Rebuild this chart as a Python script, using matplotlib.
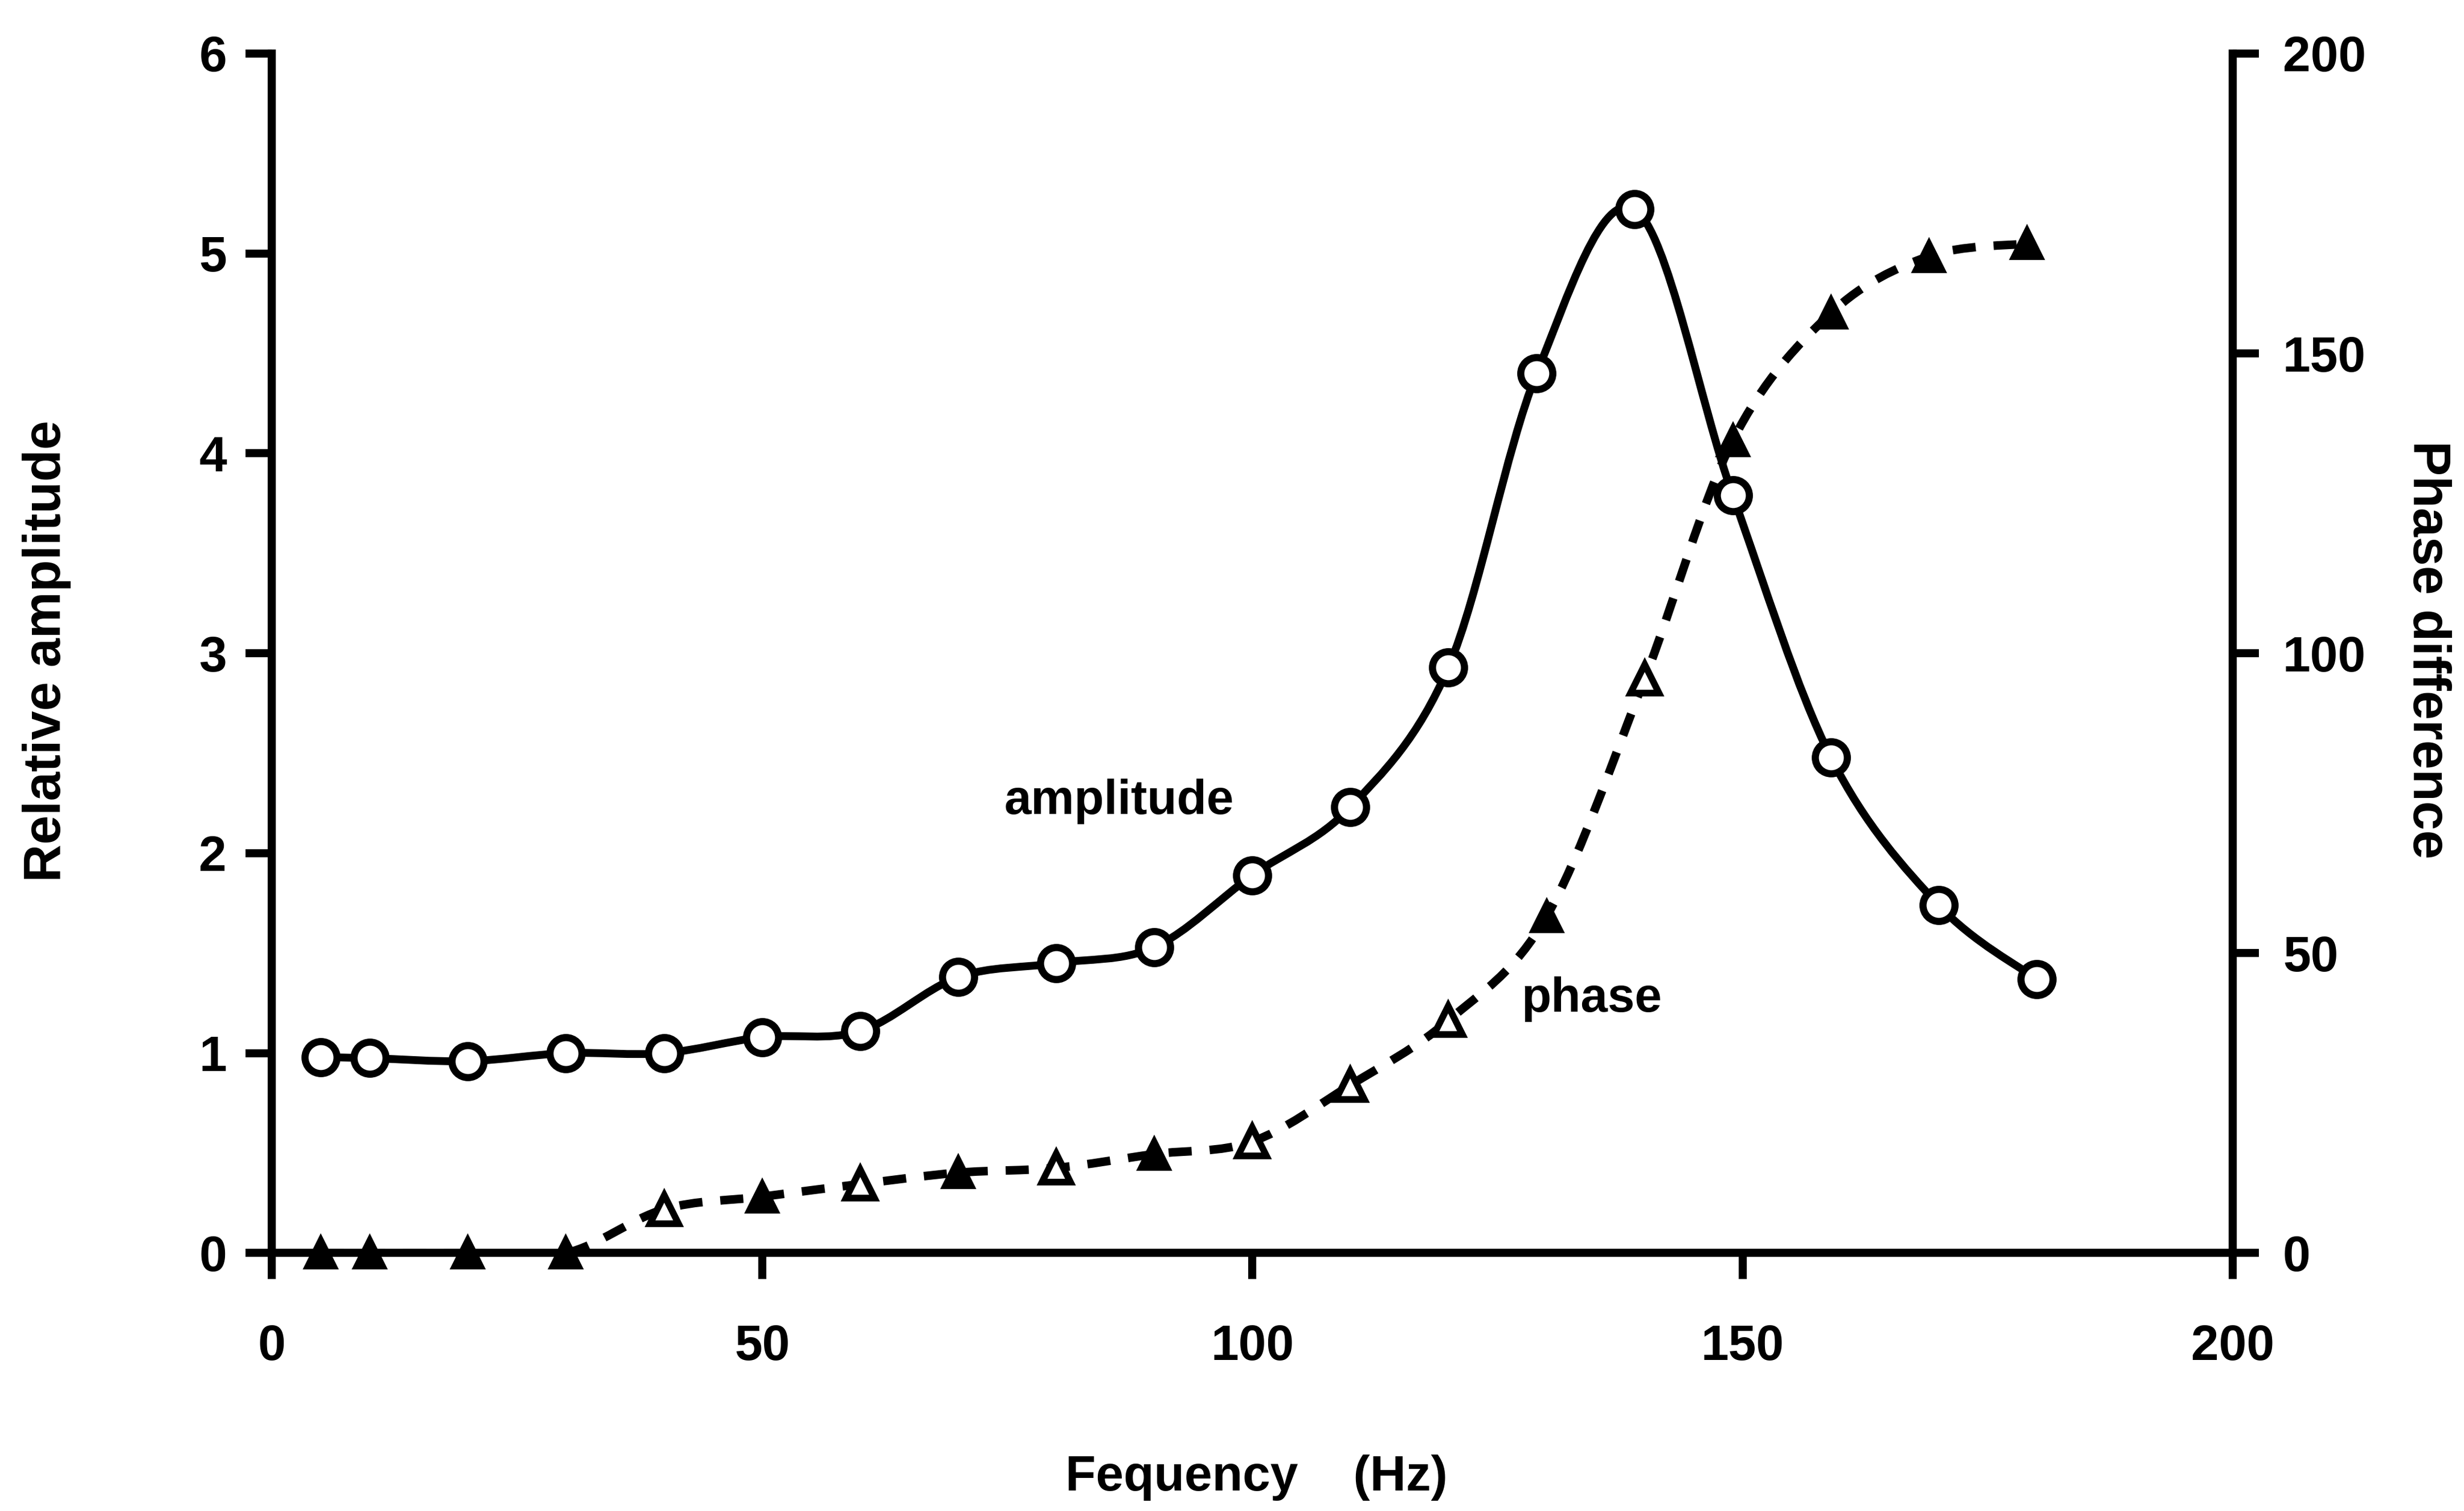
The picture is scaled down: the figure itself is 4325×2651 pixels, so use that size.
import numpy as np
import matplotlib
matplotlib.use("Agg")
import matplotlib.pyplot as plt
from matplotlib.path import Path
from matplotlib.patches import PathPatch

plt.rcParams['font.family'] = ['Liberation Sans', 'DejaVu Sans']
plt.rcParams['font.weight'] = 'bold'

# amplitude (left axis)
amp_freq = [5, 10, 20, 30, 40, 50, 60, 70, 80, 90, 100, 110, 120, 129, 139, 149, 159, 170, 180]
amp_vals = [0.98, 0.975, 0.96, 1.0, 1.0, 1.08, 1.11, 1.38, 1.45, 1.53, 1.89, 2.23, 2.93,
            4.40, 5.22, 3.79, 2.48, 1.74, 1.37]

# phase difference (right axis)
ph_freq = [5, 10, 20, 30, 40, 50, 60, 70, 80, 90, 100, 110, 120, 130, 140, 149, 159, 169, 179]
ph_vals = [0, 0, 0, 0, 7.3, 9.4, 11.5, 13.4, 14.2, 16.5, 18.6, 28.0, 38.8, 56.1, 95.7,
           135.5, 156.7, 166.2, 168.3]
ph_filled = [1, 1, 1, 1, 0, 1, 0, 1, 0, 1, 0, 0, 0, 1, 0, 1, 1, 1, 1]


def smooth_path(x, y):
    # catmull-rom through the points, as cubic bezier segments
    p = np.column_stack([x, y]).astype(float)
    p = np.vstack([p[0], p, p[-1]])
    verts = [p[1]]
    codes = [Path.MOVETO]
    for i in range(1, len(p) - 2):
        c1 = p[i] + (p[i + 1] - p[i - 1]) / 6
        c2 = p[i + 1] - (p[i + 2] - p[i]) / 6
        verts += [c1, c2, p[i + 1]]
        codes += [Path.CURVE4] * 3
    return Path(verts, codes)


fig = plt.figure(figsize=(4325 / 300, 2651 / 300), dpi=300)
ax = fig.add_axes([0.1103, 0.1707, 0.7959, 0.7939])
ax2 = ax.twinx()

ax.set_xlim(0, 200)
ax.set_ylim(0, 6)
ax2.set_ylim(0, 200)

lw = 3.4
for a in (ax, ax2):
    a.spines['top'].set_visible(False)
    for s in ('left', 'right', 'bottom'):
        a.spines[s].set_linewidth(lw)

ax.set_xticks([0, 50, 100, 150, 200])
ax.set_yticks(range(7))
ax2.set_yticks([0, 50, 100, 150, 200])
ax.tick_params(axis='both', direction='out', length=11, width=lw, labelsize=21)
ax.tick_params(axis='x', pad=19)
ax.tick_params(axis='y', pad=8)
ax2.tick_params(axis='y', direction='out', length=11, width=lw, labelsize=21, pad=10)

ax.add_patch(PathPatch(smooth_path(amp_freq, amp_vals), fill=False, lw=3.3,
                       edgecolor='black', zorder=3))
ax2.add_patch(PathPatch(smooth_path(ph_freq, ph_vals), fill=False, lw=3.6,
                        edgecolor='black', linestyle=(0, (2.7, 2.1)), zorder=3))

ax.plot(amp_freq, amp_vals, linestyle='none', marker='o', markersize=13.5,
        markerfacecolor='white', markeredgecolor='black', markeredgewidth=3.0, zorder=5)

ph_freq_a = np.array(ph_freq)
ph_vals_a = np.array(ph_vals)
mask = np.array(ph_filled) == 1
ax2.plot(ph_freq_a[mask], ph_vals_a[mask], linestyle='none', marker='^', markersize=12,
         markerfacecolor='black', markeredgecolor='black', markeredgewidth=2.0,
         zorder=5, clip_on=False)
ax2.plot(ph_freq_a[~mask], ph_vals_a[~mask], linestyle='none', marker='^', markersize=12,
         markerfacecolor='white', markeredgecolor='black', markeredgewidth=2.8,
         zorder=5, clip_on=False)

ax.text(86.4, 2.26, 'amplitude', fontsize=20.5, ha='center', va='center')
ax.text(134.6, 1.27, 'phase', fontsize=20.5, ha='center', va='center')

fig.text(0.510, 0.022, 'Fequency    (Hz)', fontsize=21, ha='center', va='center')
fig.text(0.019, 0.569, 'Relative amplitude', fontsize=22, rotation=90,
         ha='center', va='center')
fig.text(0.985, 0.570, 'Phase difference', fontsize=22, rotation=270,
         ha='center', va='center')

fig.savefig('out.png', dpi=300)
